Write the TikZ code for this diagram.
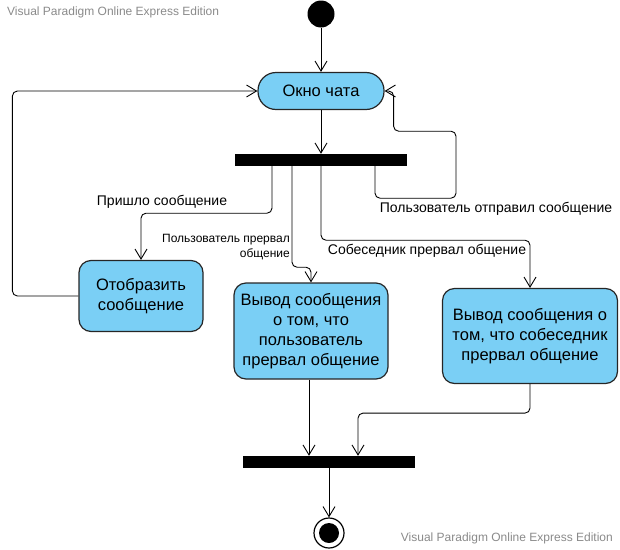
\documentclass[tikz,border=0pt]{standalone}
\usepackage{fontspec}
\setmainfont{Liberation Sans}
\usetikzlibrary{shapes,arrows.meta,positioning,calc}
\usepackage{xcolor}
\definecolor{actblue}{HTML}{7ACFF5}
\definecolor{wmgray}{HTML}{8A8A8A}

\begin{document}
\begin{tikzpicture}[x=1pt, y=-1pt,
    actbox/.style={rectangle, draw=black!85, fill=actblue, line width=1.2pt, rounded corners=12pt,
                 align=center, inner sep=0pt, font=\fontsize{16.5}{20}\selectfont},
    bar/.style={rectangle, fill=black, inner sep=0pt, minimum height=12pt},
    arr/.style={-{Straight Barb[length=10pt, width=12pt]}, line width=0.9pt, rounded corners=5pt},
    lbl/.style={font=\fontsize{14}{16}\selectfont, inner sep=0pt},
    wmark/.style={font=\fontsize{12}{14}\selectfont, text=wmgray, inner sep=0pt}
]
    \useasboundingbox (0,0) rectangle (620,549);

    \node[wmark, anchor=west] (wm1) at (7,12) {Visual Paradigm Online Express Edition};
    \node[wmark, anchor=east] (wm2) at (613,538) {Visual Paradigm Online Express Edition};

    \node[circle, fill=black, inner sep=0pt, minimum size=27pt] (start) at (321,14) {};
    \node[actbox, rounded corners=18pt, minimum width=126pt, minimum height=37pt,
          font=\fontsize{16.5}{19}\selectfont] (chat) at (321,91) {Окно чата};
    \node[bar, minimum width=172pt] (fork) at (321,160) {};

    \node[actbox, minimum width=124pt, minimum height=71pt] (show) at (141,296) {Отобразить\\сообщение};
    \node[actbox, minimum width=154pt, minimum height=96pt] (userquit) at (311,331)
        {Вывод сообщения\\о том, что\\пользователь\\прервал общение};
    \node[actbox, minimum width=175pt, minimum height=95pt] (peerquit) at (530,336)
        {Вывод сообщения о\\том, что собеседник\\прервал общение};

    \node[bar, minimum width=172pt] (join) at (329,462) {};
    \node[circle, draw, line width=1.2pt, inner sep=0pt, minimum size=30pt] (stop) at (329,533) {};
    \fill (stop) circle (10);

    % labels
    \node[lbl] (l1) at (162,202) {Пришло сообщение};
    \node[lbl, font=\fontsize{12}{15}\selectfont, align=right, anchor=east] (l2) at (290,247)
        {Пользователь прервал\\общение};
    \node[lbl] (l3) at (427,251) {Собеседник прервал общение};
    \node[lbl] (l4) at (496,209) {Пользователь отправил сообщение};

    % flows
    \draw[arr] (start) -- (chat);
    \draw[arr] (chat) -- (fork);
    \draw[arr] ([xshift=-49pt]fork.south) -- ++(0,47) -| (show.north);
    \draw[arr] ([xshift=-29pt]fork.south) -- ++(0,101) -| (userquit.north);
    \draw[arr] (fork.south) -- ++(0,74) -| (peerquit.north);
    \draw[arr] ([xshift=54pt]fork.south) -- ++(0,32) -| ++(81,-67) -| ($(chat.east)+(9,0)$) -- (chat.east);
    \draw[arr] (show.west) -- ++(-66,0) |- (chat.west);
    \draw[arr] ([xshift=-2pt]userquit.south) -- ([xshift=-2pt]userquit.south |- join.north);
    \draw[arr] (peerquit.south) -- ++(0,29) -| ([xshift=29pt]join.north);
    \draw[arr] (join) -- (stop);
\end{tikzpicture}
\end{document}
